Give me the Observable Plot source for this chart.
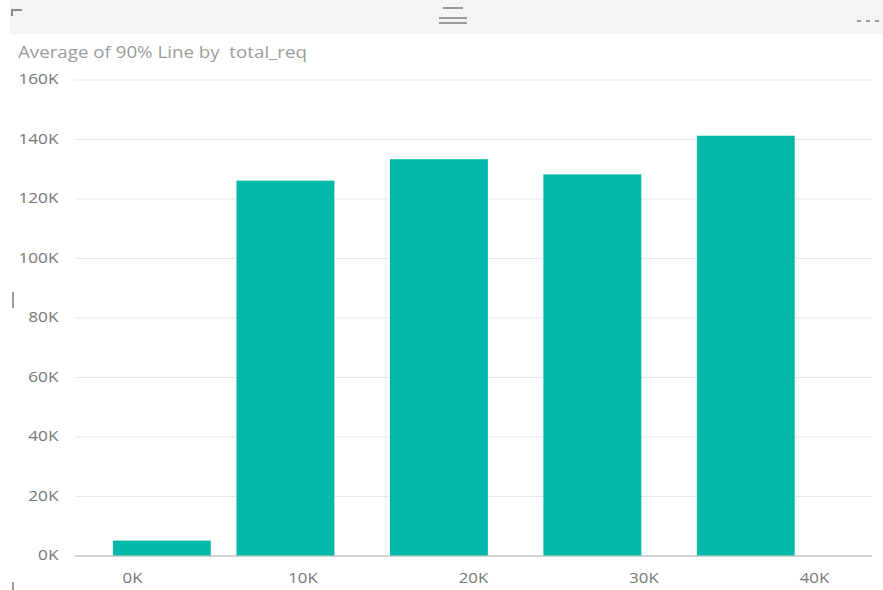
<!DOCTYPE html>
<html>
<head>
<meta charset="utf-8">
<script src="https://cdn.jsdelivr.net/npm/d3@7"></script>
<script src="https://cdn.jsdelivr.net/npm/@observablehq/plot@0.6"></script>
<style>
  html, body { margin: 0; padding: 0; background: #fff; }
  #frame { position: relative; width: 883px; height: 590px; overflow: hidden; font-family: "Open Sans", sans-serif; }
  #header { position: absolute; left: 10px; top: 0; width: 873px; height: 34px; background: #f4f4f4; }
  .corner-h { position: absolute; left: 11px; top: 9px; width: 11px; height: 2px; background: #8c8c8c; }
  .corner-v { position: absolute; left: 11px; top: 9px; width: 2px; height: 7px; background: #8c8c8c; }
  .grip { position: absolute; height: 2px; background: #9a9a9a; }
  .dot { position: absolute; top: 20px; width: 4px; height: 2px; background: #9a9a9a; }
  .handle { position: absolute; left: 12px; width: 2px; background: #9c9c9c; }
  #title { position: absolute; left: 18px; top: 41px; font-size: 16px; color: #9b9b9b; white-space: pre;
           transform: scaleX(1.17); transform-origin: left center; }
  #chart { position: absolute; left: 0; top: 60px; }
</style>
</head>
<body>
<div id="frame">
  <div id="header"></div>
  <div class="corner-h"></div>
  <div class="corner-v"></div>
  <div class="grip" style="left:443px; top:7px; width:20px;"></div>
  <div class="grip" style="left:439px; top:17px; width:28px;"></div>
  <div class="grip" style="left:439px; top:22px; width:28px;"></div>
  <div class="dot" style="left:857px;"></div>
  <div class="dot" style="left:866px;"></div>
  <div class="dot" style="left:875px;"></div>
  <div class="handle" style="top:292px; height:16px;"></div>
  <div class="handle" style="top:582px; height:8px;"></div>
  <div id="title">Average of 90% Line by  total_req</div>
  <div id="chart"></div>
</div>
<script>
// total_req buckets (x position of each bar) and the average 90% line per bucket
const totalReq = [1750, 9000, 18000, 27000, 36000];
const avg90 = [5000, 126000, 133200, 128100, 141100];
const yTicks = [0, 20000, 40000, 60000, 80000, 100000, 120000, 140000, 160000];
const xTicks = [0, 10000, 20000, 30000, 40000];

const halfBar = 2870; // half of the bar width, in total_req units
const rows = totalReq.map((x, i) => ({x, y: avg90[i]}));
const fmtK = d => `${Math.round(d / 1000)}K`;

const chart = Plot.plot({
  width: 883,
  height: 530,
  marginLeft: 75,
  marginRight: 11,
  marginTop: 19.5,
  marginBottom: 34.5,
  style: {fontFamily: "Open Sans, sans-serif", fontSize: "14px", color: "#777", background: "transparent"},
  x: {type: "linear", domain: [-3343, 43402]},
  y: {domain: [0, 160000]},
  marks: [
    Plot.gridY(yTicks, {stroke: "#e9e9e9", strokeOpacity: 1}),
    Plot.ruleY([0], {stroke: "#c8c8c8", strokeWidth: 1.5}),
    Plot.rectY(rows, {
      x1: d => d.x - halfBar,
      x2: d => d.x + halfBar,
      y1: 0,
      y2: "y",
      fill: "#01B8AA"
    }),
    Plot.axisY(yTicks, {tickFormat: fmtK, tickSize: 0, tickPadding: 17, label: null, fill: "#777"}),
    Plot.axisX(xTicks, {tickFormat: fmtK, tickSize: 0, tickPadding: 17.5, label: null, fill: "#777"})
  ]
});

// widen the tick label glyphs a little; the scale is applied after the
// label's own translate, so each label keeps its anchor point
function widen(selector, s) {
  d3.select(chart).selectAll(selector).each(function() {
    const t = this.getAttribute("transform");
    if (t) this.setAttribute("transform", `${t} scale(${s},1)`);
    else {
      const x = +this.getAttribute("x") || 0, y = +this.getAttribute("y") || 0;
      this.removeAttribute("x"); this.removeAttribute("y");
      this.setAttribute("transform", `translate(${x},${y}) scale(${s},1)`);
    }
  });
}
widen("g[aria-label='y-axis tick label'] text", 1.23);
widen("g[aria-label='x-axis tick label'] text", 1.2);

document.getElementById("chart").appendChild(chart);
</script>
</body>
</html>
